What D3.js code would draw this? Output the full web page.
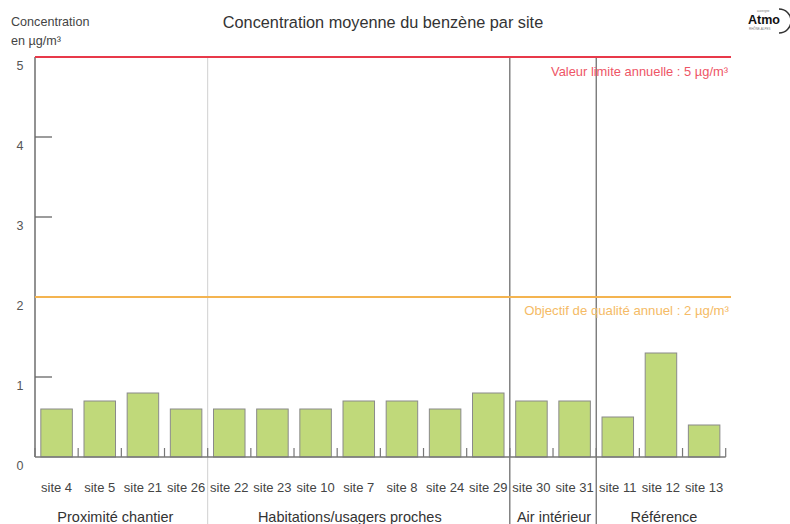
<!DOCTYPE html>
<html><head><meta charset="utf-8">
<script src="https://cdn.jsdelivr.net/npm/d3@7"></script>
<style>body{margin:0;background:#fff}svg{display:block;font-family:"Liberation Sans",Arial,sans-serif}</style>
</head><body><svg id="c" width="790" height="524"></svg>
<script>
const sites = ["site 4","site 5","site 21","site 26","site 22","site 23","site 10","site 7","site 8","site 24","site 29","site 30","site 31","site 11","site 12","site 13"];
const values = [0.6,0.7,0.8,0.6,0.6,0.6,0.6,0.7,0.7,0.6,0.8,0.7,0.7,0.5,1.3,0.4];
const groups = ["Proximité chantier","Habitations/usagers proches","Air intérieur","Référence"];
const groupSizes = [4,7,2,3];
const yTicks = [0,1,2,3,4,5];
const limitValue = 5, limitLabel = "Valeur limite annuelle : 5 µg/m³";
const objValue = 2, objLabel = "Objectif de qualité annuel : 2 µg/m³";

const svg = d3.select("#c");
const pL = 35, pR = 725.7, pT = 57, pB = 457;
const x = d3.scaleBand().domain(sites).range([pL, pR]).paddingInner(0.27).paddingOuter(0.135);
const y = d3.scaleLinear().domain([0,5]).range([pB, pT]);
const bandStart = i => pL + i*(pR-pL)/sites.length;
const groupLabelShift = [-6,-9,1,3];

// title
svg.append("text").attr("x",383).attr("y",28).attr("text-anchor","middle").attr("font-size",16.3).attr("fill","#333").text("Concentration moyenne du benzène par site");
svg.append("text").attr("x",11).attr("y",26).attr("font-size",12.6).attr("fill","#444").text("Concentration");
svg.append("text").attr("x",11).attr("y",45).attr("font-size",12.6).attr("fill","#444").text("en µg/m³");

// logo
const lg = svg.append("g").attr("transform","translate(748,0)");
lg.append("text").attr("x",0).attr("y",24).attr("font-size",12.5).attr("font-weight","bold").attr("fill","#111").text("Atmo");
lg.append("text").attr("x",9).attr("y",12).attr("font-size",3).attr("fill","#777").text("auvergne");
lg.append("text").attr("x",1).attr("y",30).attr("font-size",3).attr("fill","#777").text("RHÔNE-ALPES");
lg.append("path").attr("d","M31,9 A10,10 0 0 1 31,33").attr("fill","none").attr("stroke","#333").attr("stroke-width",1.5);

// group separators
let cum = 0;
const sepColors = ["#d0d0d0","#444","#444"];
groupSizes.forEach((n,gi)=>{
  const s = bandStart(cum), e = bandStart(cum+n);
  svg.append("text").attr("x",(s+e)/2+groupLabelShift[gi]).attr("y",522).attr("text-anchor","middle").attr("font-size",14.5).attr("fill","#333").text(groups[gi]);
  cum += n;
  if (gi < groupSizes.length-1) {
    svg.append("line").attr("x1",e).attr("x2",e).attr("y1",pT).attr("y2",524).attr("stroke",sepColors[gi]).attr("stroke-width",1);
  }
});

// y axis
svg.append("line").attr("x1",pL).attr("x2",pL).attr("y1",pT).attr("y2",pB).attr("stroke","#777").attr("stroke-width",1.6);
yTicks.forEach(t=>{
  if (t>0 && t<5 && t!==2) svg.append("line").attr("x1",pL).attr("x2",pL+17).attr("y1",y(t)).attr("y2",y(t)).attr("stroke","#666").attr("stroke-width",1.3);
  svg.append("text").attr("x",20).attr("y",y(t)+13).attr("text-anchor","middle").attr("font-size",12.5).attr("fill","#555").text(t);
});

// bars
svg.selectAll("rect.bar").data(sites).join("rect").attr("class","bar")
  .attr("x",d=>x(d)).attr("width",x.bandwidth())
  .attr("y",(d,i)=>y(values[i])).attr("height",(d,i)=>pB-y(values[i]))
  .attr("fill","#c0d97a").attr("stroke","#8a8a8a").attr("stroke-width",1);

// baseline & band ticks
svg.append("line").attr("x1",pL).attr("x2",pR).attr("y1",pB).attr("y2",pB).attr("stroke","#777").attr("stroke-width",1.6);
d3.range(sites.length+1).forEach(i=>{
  svg.append("line").attr("x1",bandStart(i)).attr("x2",bandStart(i)).attr("y1",pB).attr("y2",pB-9).attr("stroke","#777").attr("stroke-width",1.2);
});

// x labels
svg.selectAll("text.xl").data(sites).join("text").attr("class","xl")
  .attr("x",d=>x(d)+x.bandwidth()/2).attr("y",492).attr("text-anchor","middle").attr("font-size",13).attr("fill","#444").text(d=>d);

// reference lines
svg.append("line").attr("x1",pL).attr("x2",731).attr("y1",y(limitValue)).attr("y2",y(limitValue)).attr("stroke","#e8394a").attr("stroke-width",2);
svg.append("text").attr("x",728).attr("y",y(limitValue)+19).attr("text-anchor","end").attr("font-size",12.9).attr("fill","#ee5566").text(limitLabel);
svg.append("line").attr("x1",pL).attr("x2",731).attr("y1",y(objValue)).attr("y2",y(objValue)).attr("stroke","#f4b450").attr("stroke-width",2);
svg.append("text").attr("x",729).attr("y",y(objValue)+18).attr("text-anchor","end").attr("font-size",13.2).attr("fill","#f5bb66").text(objLabel);
</script></body></html>
